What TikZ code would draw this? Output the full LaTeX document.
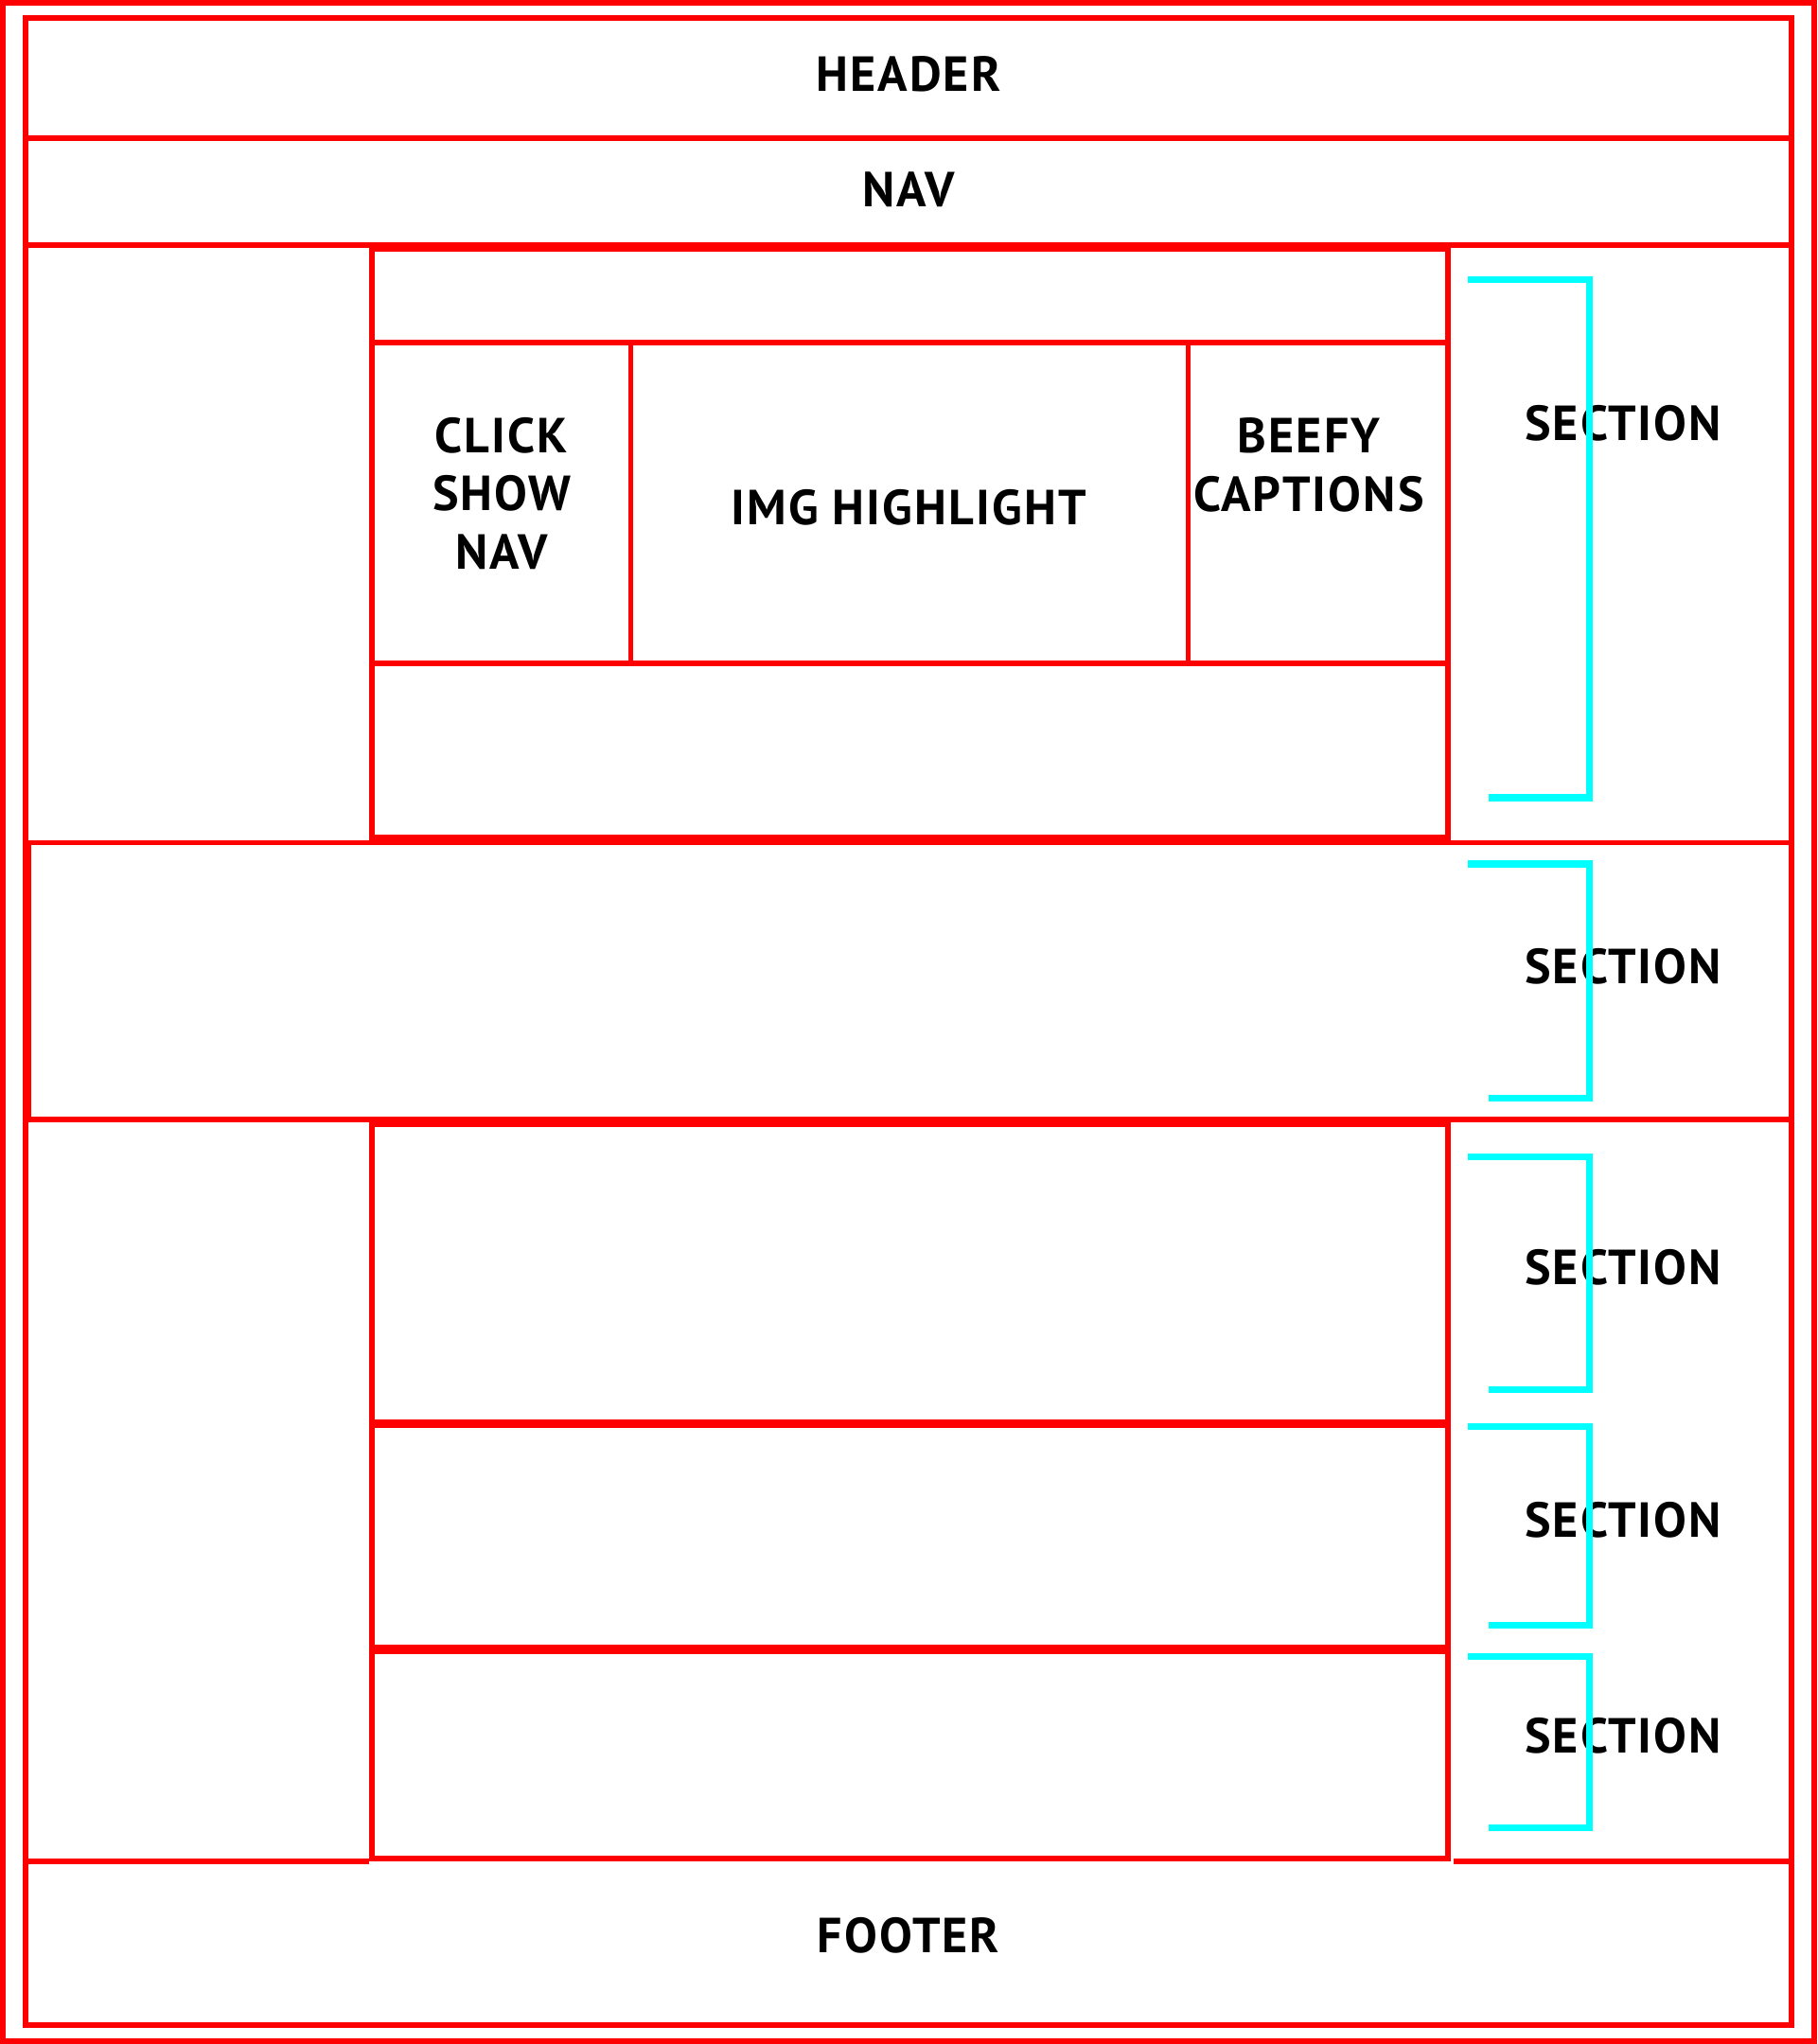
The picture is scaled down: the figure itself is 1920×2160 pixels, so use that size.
\documentclass[tikz,border=0pt]{standalone}
\usepackage{fontspec}
\setmainfont{PT Sans}[LetterSpace=4]
\definecolor{aqua}{RGB}{0,255,255}
\definecolor{pinred}{RGB}{255,0,0}

\begin{document}
\begin{tikzpicture}[x=0.01cm, y=-0.01cm,
    wire/.style={draw=pinred, line width=1.55pt},
    bracket/.style={draw=aqua, line width=2pt},
    lbl/.style={font=\fontsize{14.8}{17.6}\selectfont\bfseries, inner sep=0pt, align=center}]
    \useasboundingbox (0,0) rectangle (1920,2160);

    % frames
    \draw[wire, line width=1.7pt] (3,3) rectangle (1917,2157);
    \draw[wire] (27,19) rectangle (1893,2140);
    \draw[wire] (27,146) -- (1893,146);
    \draw[wire] (27,259) -- (1893,259);

    % first section, centre block
    \draw[wire] (393,263) rectangle (1530,885);
    \draw[wire] (393,362) -- (1530,362);
    \draw[wire] (393,701) -- (1530,701);
    \draw[wire] (666.5,362) -- (666.5,701);
    \draw[wire] (1255.5,362) -- (1255.5,701);

    % full width section
    \draw[wire] (30,890.5) rectangle (1893,1183);

    % stacked blocks
    \draw[wire] (393,1188.5) rectangle (1530,1502.5);
    \draw[wire] (393,1506.5) rectangle (1530,1740.5);
    \draw[wire] (393,1745.5) rectangle (1530,1964);
    \draw[wire] (27,1967) -- (390,1967);
    \draw[wire] (1536,1967) -- (1893,1967);

    \node[lbl, anchor=base] (header) at (960,96.8) {HEADER};
    \node[lbl, anchor=base] (nav) at (960,218) {NAV};
    \node[lbl] (clicknav) at (530,521.5) {CLICK\\SHOW\\NAV};
    \node[lbl, anchor=base] (imghl) at (960,554) {IMG HIGHLIGHT};
    \node[lbl] (beefy) at (1383,491) {BEEFY\\CAPTIONS};
    \foreach \y [count=\i] in {465,1039,1357,1624,1852}
      \node[lbl, anchor=base] (sec\i) at (1715,\y) {SECTION};
    \node[lbl, anchor=base] (footer) at (960,2063.5) {FOOTER};

    % brackets
    \foreach \t/\b in {295.5/843,913/1160.5,1222/1468,1507/1717.5,1750/1931.5}
      \draw[bracket] (1551,\t) -- (1679.5,\t) -- (1679.5,\b) -- (1573,\b);
\end{tikzpicture}
\end{document}
